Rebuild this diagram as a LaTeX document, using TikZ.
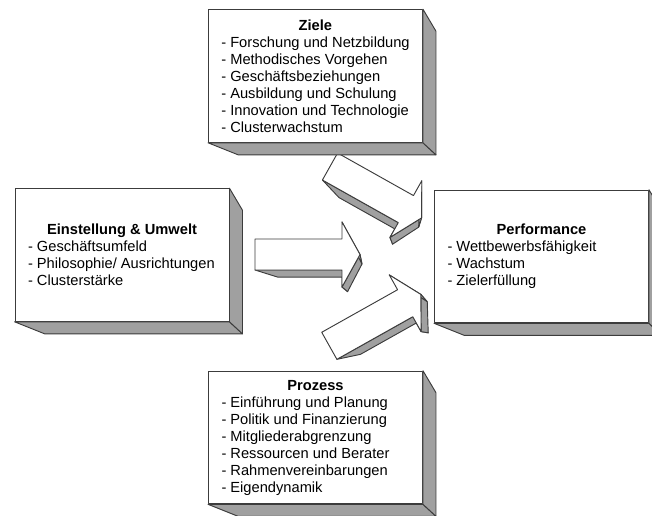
\documentclass[tikz,border=0pt]{standalone}
\usepackage{fontspec}
\setmainfont{Liberation Sans}
\definecolor{sidegray}{RGB}{160,160,160}
\definecolor{edgegray}{RGB}{60,60,60}
\newcommand{\boxtitle}[1]{\makebox[141pt]{\textbf{#1}}}
% Blockpfeil mit Seitenflaechen, #1 = Ende, #2 = Winkel
\newcommand{\blockarrow}[2]{%
  \begin{scope}[shift={#1}, rotate=#2]
    \filldraw[side] (87,15.5) -- (87,32.5) -- (92.6,37.1) -- (92.6,22.7) -- cycle;
    \filldraw[side] (0,15.5) -- (87,15.5) -- (92.6,22.7) -- (23,22.7) -- cycle;
    \filldraw[side] (87,32.5) -- (105,0) -- (107,9.5) -- (92.6,37.1) -- cycle;
    \filldraw[side] (87,-32.5) -- (105,0) -- (107,9.5) -- (92.6,-18.1) -- cycle;
    \filldraw[front] (0,-15.5) -- (87,-15.5) -- (87,-32.5) -- (105,0)
      -- (87,32.5) -- (87,15.5) -- (0,15.5) -- cycle;
  \end{scope}}
% Seitenflaechen eines Kastens
\newcommand{\boxsides}[1]{%
  \filldraw[side] (#1.south west) -- (#1.south east) -- ([shift={(13,12)}]#1.south east)
    -- ([shift={(30,12)}]#1.south west) -- cycle;
  \filldraw[side] (#1.south east) -- (#1.north east) -- ([shift={(13,22)}]#1.north east)
    -- ([shift={(13,12)}]#1.south east) -- cycle;}
\begin{document}
\begin{tikzpicture}[x=0.75pt, y=-0.75pt,
    side/.style={fill=sidegray, draw=edgegray, line width=0.7pt, line join=round},
    front/.style={fill=white, draw=edgegray, line width=0.7pt, line join=round},
    box/.style={front, inner sep=0pt, minimum width=160.5pt, minimum height=99.5pt,
      align=left, font=\fontsize{11pt}{12.75pt}\selectfont}]
    \clip (0,0) rectangle (652,515);

    % 1. Pfeile
    \blockarrow{(330,166.5)}{-29.3}
    \blockarrow{(255,254.5)}{0}
    \blockarrow{(329.3,345.8)}{29.3}

    % 2. Kaesten
    \node[box] (ziele) at (315.5,76) {\boxtitle{Ziele}\\
        - Forschung und Netzbildung\\
        - Methodisches Vorgehen\\
        - Geschäftsbeziehungen\\
        - Ausbildung und Schulung\\
        - Innovation und Technologie\\
        - Clusterwachstum};
    \boxsides{ziele}

    \node[box] (umwelt) at (122,255) {\boxtitle{Einstellung \& Umwelt}\\
        - Geschäftsumfeld\\
        - Philosophie/ Ausrichtungen\\
        - Clusterstärke};
    \boxsides{umwelt}

    \node[box] (performance) at (541.5,256.5) {\boxtitle{Performance}\\
        - Wettbewerbsfähigkeit\\
        - Wachstum\\
        - Zielerfüllung};
    \boxsides{performance}

    \node[box] (prozess) at (315.5,437.5) {\boxtitle{Prozess}\\
        - Einführung und Planung\\
        - Politik und Finanzierung\\
        - Mitgliederabgrenzung\\
        - Ressourcen und Berater\\
        - Rahmenvereinbarungen\\
        - Eigendynamik};
    \boxsides{prozess}
\end{tikzpicture}
\end{document}
